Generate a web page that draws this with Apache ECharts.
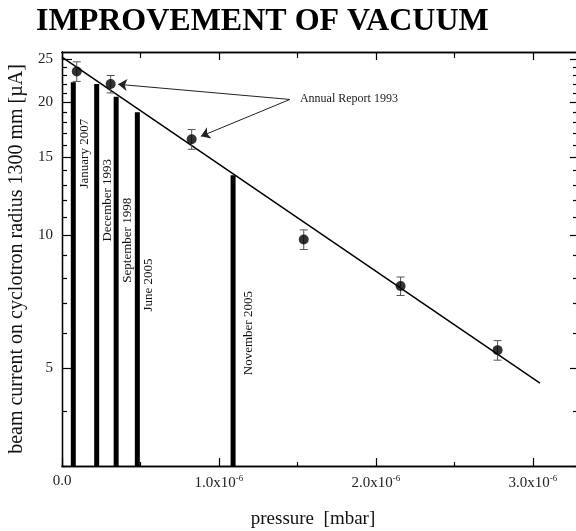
<!DOCTYPE html>
<html><head><meta charset="utf-8">
<script src="https://cdn.jsdelivr.net/npm/echarts@6/dist/echarts.min.js"></script>
<style>html,body{margin:0;padding:0;background:#fff}#c{width:576px;height:531px}</style>
</head><body><div id="c"></div>
<script>
const titleText = 'IMPROVEMENT OF VACUUM';
const xTitle = 'pressure  [mbar]';
const yTitle = 'beam current on cyclotron radius 1300 mm [\u00b5A]';
const xMajorTicks = [0, 1e-6, 2e-6, 3e-6];
const xMinorTicks = [0.5e-6, 1.5e-6, 2.5e-6];
const yMajorTicks = [5, 10, 15, 20, 25];
const yMinorTicks = [3, 4, 6, 7, 8, 9, 11, 12, 13, 14, 16, 17, 18, 19, 21, 22, 23, 24];
const xRange = [0, 3.3e-6];
const yRange = [3, 26];

const pointPressure = [0.094e-6, 0.31e-6, 0.826e-6, 1.54e-6, 2.157e-6, 2.775e-6];
const pointCurrent = [23.5, 22.0, 16.5, 9.78, 7.67, 5.49];
const pointError = [1.2, 1.0, 0.85, 0.5, 0.37, 0.28];

const fitPressure = [0, 3.045e-6];
const fitCurrent = [25.3, 4.62];

const eventNames = ['January 2007', 'December 1993', 'September 1998', 'June 2005', 'November 2005'];
const eventPressure = [0.072e-6, 0.221e-6, 0.345e-6, 0.48e-6, 1.09e-6];
const eventCurrent = [22.2, 22.0, 20.6, 19.0, 13.67];
const eventLabelCurrent = [15.3, 12.0, 9.74, 7.71, 6.0];

const annotationText = 'Annual Report 1993';
const annotationTail = [1.452e-6, 20.3];
const annotationHeadsPressure = [0.357e-6, 0.885e-6];
const annotationHeadsCurrent = [21.97, 16.75];

const L = v => Math.log10(v);
const SERIF = '"Liberation Serif", "Times New Roman", serif';

const chart = echarts.init(document.getElementById('c'));

function xLabelFmt(v) {
  if (Math.abs(v) < 1e-12) return '{n|0.0}';
  return '{n|' + (v / 1e-6).toFixed(1) + 'x10}{s|-6}';
}
const xRich = {
  n: { fontFamily: SERIF, fontSize: 15, color: '#222' },
  s: { fontFamily: SERIF, fontSize: 9, color: '#222', verticalAlign: 'bottom', padding: [0, 0, 9, 0] }
};

function xAxisDef(pos, ticks, len, labels) {
  return {
    type: 'value', position: pos, min: xRange[0], max: xRange[1],
    axisLine: { show: true, onZero: false, lineStyle: { color: '#000', width: 1.3 } },
    axisTick: { show: true, inside: true, length: len, customValues: ticks, lineStyle: { color: '#000', width: 1.2 } },
    axisLabel: labels ? { show: true, customValues: ticks, formatter: xLabelFmt, rich: xRich, margin: 8 } : { show: false },
    splitLine: { show: false }
  };
}
function yAxisDef(pos, ticks, len, labels) {
  return {
    type: 'value', position: pos, min: L(yRange[0]), max: L(yRange[1]),
    axisLine: { show: true, onZero: false, lineStyle: { color: '#000', width: 1.3 } },
    axisTick: { show: true, inside: true, length: len, customValues: ticks.map(L), lineStyle: { color: '#000', width: 1.2 } },
    axisLabel: labels ? { show: true, customValues: ticks.map(L), formatter: v => String(Math.round(Math.pow(10, v))),
      fontFamily: SERIF, fontSize: 15, color: '#222', margin: 9 } : { show: false },
    splitLine: { show: false }
  };
}

const xAxes = [
  xAxisDef('bottom', xMajorTicks, 8, true),
  xAxisDef('bottom', xMinorTicks, 4, false),
  xAxisDef('top', xMajorTicks, 8, false),
  xAxisDef('top', xMinorTicks, 6, false)
];
Object.assign(xAxes[0], {
  name: xTitle, nameLocation: 'middle', nameGap: 44,
  nameTextStyle: { fontFamily: SERIF, fontSize: 19, color: '#111', padding: [0, 16, 0, 0] }
});
const yAxes = [
  yAxisDef('left', yMajorTicks, 10, true),
  yAxisDef('left', yMinorTicks, 5, false),
  yAxisDef('right', yMajorTicks, 10, false),
  yAxisDef('right', yMinorTicks, 7, false)
];
Object.assign(yAxes[0], {
  name: yTitle, nameLocation: 'middle', nameGap: 34,
  nameTextStyle: { fontFamily: SERIF, fontSize: 20, color: '#111' }
});

const eventData = eventPressure.map((x, i) => [x, L(eventCurrent[i]), L(eventLabelCurrent[i])]);
const errData = pointPressure.map((x, i) => [x, L(pointCurrent[i] - pointError[i]), L(pointCurrent[i] + pointError[i])]);

chart.setOption({
  animation: false,
  backgroundColor: '#fff',
  title: { text: titleText, left: 31, top: 1,
    textStyle: { fontFamily: SERIF, fontWeight: 'bold', fontSize: 32, color: '#000' } },
  grid: { left: 62, right: -4, top: 52, bottom: 65, containLabel: false, outerBoundsMode: 'none' },
  xAxis: xAxes,
  yAxis: yAxes,
  series: [
    {
      type: 'custom', xAxisIndex: 0, yAxisIndex: 0, data: eventData, z: 2,
      renderItem: function (params, api) {
        const x = api.value(0);
        const pTop = api.coord([x, api.value(1)]);
        const pBot = api.coord([x, L(yRange[0])]);
        const pLab = api.coord([x, api.value(2)]);
        const off = params.dataIndex === 4 ? 15 : 11;
        return { type: 'group', children: [
          { type: 'rect', shape: { x: pTop[0] - 2.5, y: pTop[1], width: 5, height: pBot[1] - pTop[1] }, style: { fill: '#000' } },
          { type: 'text', x: pLab[0] + off, y: pLab[1], rotation: Math.PI / 2,
            style: { text: eventNames[params.dataIndex], fontFamily: SERIF, fontSize: 13, fill: '#111', align: 'center', verticalAlign: 'middle' } }
        ] };
      }
    },
    {
      type: 'line', xAxisIndex: 0, yAxisIndex: 0, showSymbol: false, symbol: 'none', z: 3,
      data: fitPressure.map((x, i) => [x, L(fitCurrent[i])]),
      lineStyle: { color: '#000', width: 1.5 }
    },
    {
      type: 'custom', xAxisIndex: 0, yAxisIndex: 0, data: errData, z: 4,
      renderItem: function (params, api) {
        const x = api.value(0);
        const lo = api.coord([x, api.value(1)]);
        const hi = api.coord([x, api.value(2)]);
        const st = { stroke: '#555', lineWidth: 1 };
        return { type: 'group', children: [
          { type: 'line', shape: { x1: lo[0], y1: lo[1], x2: hi[0], y2: hi[1] }, style: st },
          { type: 'line', shape: { x1: lo[0] - 4, y1: lo[1], x2: lo[0] + 4, y2: lo[1] }, style: st },
          { type: 'line', shape: { x1: hi[0] - 4, y1: hi[1], x2: hi[0] + 4, y2: hi[1] }, style: st }
        ] };
      }
    },
    {
      type: 'scatter', xAxisIndex: 0, yAxisIndex: 0, symbol: 'circle', symbolSize: 10, z: 5,
      itemStyle: { color: '#000' },
      data: pointPressure.map((x, i) => [x, L(pointCurrent[i])])
    },
    {
      type: 'lines', coordinateSystem: 'cartesian2d', xAxisIndex: 0, yAxisIndex: 0, z: 6,
      symbol: ['none', 'arrow'], symbolSize: 9,
      lineStyle: { color: '#222', width: 1, opacity: 1 },
      data: annotationHeadsPressure.map((x, i) => ({
        coords: [[annotationTail[0], L(annotationTail[1])], [x, L(annotationHeadsCurrent[i])]]
      }))
    },
    {
      type: 'custom', xAxisIndex: 0, yAxisIndex: 0, z: 6,
      data: [[annotationTail[0], L(annotationTail[1])]],
      renderItem: function (params, api) {
        const p = api.coord([api.value(0), api.value(1)]);
        return { type: 'text', x: p[0] + 10, y: p[1] - 1,
          style: { text: annotationText, fontFamily: SERIF, fontSize: 12, fill: '#222', align: 'left', verticalAlign: 'middle' } };
      }
    }
  ]
});
</script>
</body></html>
